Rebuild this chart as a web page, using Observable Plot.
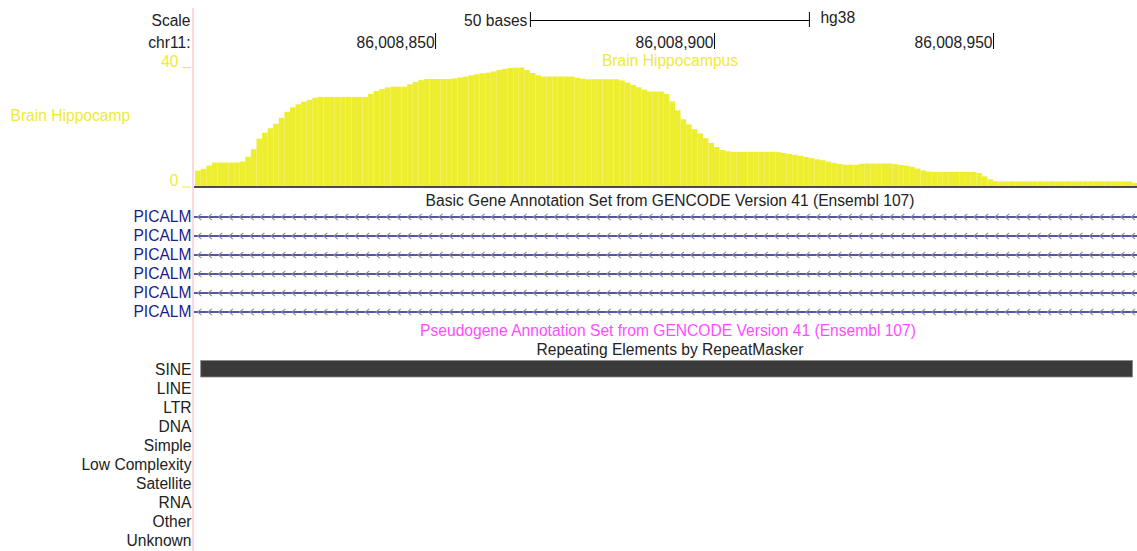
<!DOCTYPE html>
<html><head><meta charset="utf-8">
<script src="https://cdn.jsdelivr.net/npm/d3@7"></script>
<script src="https://cdn.jsdelivr.net/npm/@observablehq/plot@0.6"></script>
<style>
body{margin:0;background:#fff;}
#wrap{position:relative;width:1137px;height:551px;overflow:hidden;font-family:"Liberation Sans",Arial,sans-serif;}
#wrap > .layer{position:absolute;left:0;}
#gutter{position:absolute;left:192px;top:8px;width:2px;height:543px;background:#ffd9d9;}
</style></head><body>
<div id="wrap"><div id="gutter"></div></div>
<script>
// ---- data ----
const chromLabel = "chr11:";
const viewStart = 86008806.8, viewEnd = 86008975.8;
const coordTicks = [86008850, 86008900, 86008950];
const scaleBarStart = 86008867, scaleBarEnd = 86008917;
const scaleBarLabel = "50 bases", assembly = "hg38";

const coverageTrack = "Brain Hippocampus";
const coverageShortLabel = "Brain Hippocamp";
const coverageYTicks = [0, 40];
const coverageStart = 86008807;
const coverage = [
  5.3,5.9,7.0,8.0,8.0,8.0,8.0,8.0,8.4,10.0,
  12.5,16.0,18.0,19.5,21.0,23.0,25.0,26.5,27.5,28.4,
  29.0,29.7,30.0,30.0,30.0,30.0,30.0,30.0,30.0,30.0,
  30.0,31.0,32.0,32.6,33.2,33.4,33.4,33.4,34.2,35.0,
  35.6,36.0,36.0,36.0,36.0,36.0,36.2,36.5,36.8,37.2,
  37.6,37.9,38.1,38.5,39.0,39.4,39.7,39.8,39.8,39.0,
  38.0,37.2,36.8,36.8,36.8,36.8,36.8,36.8,36.4,36.1,
  35.9,35.9,35.9,35.9,35.9,35.9,35.5,34.8,34.0,33.2,
  32.4,31.8,31.8,31.8,31.0,28.5,25.5,22.5,20.8,19.2,
  17.8,16.2,14.6,13.2,12.2,11.8,11.6,11.6,11.6,11.6,
  11.6,11.6,11.6,11.6,11.5,11.2,10.9,10.6,10.3,9.9,
  9.5,9.1,8.8,8.3,7.9,7.5,7.3,7.3,7.3,7.6,
  7.7,7.7,7.7,7.7,7.7,7.5,7.2,7.0,6.6,6.0,
  5.4,5.0,4.9,4.9,4.9,4.9,4.9,4.9,4.9,4.9,
  4.5,3.4,2.4,1.8,1.7,1.7,1.7,1.7,1.7,1.7,
  1.7,1.7,1.7,1.7,1.7,1.7,1.7,1.7,1.7,1.7,
  1.7,1.7,1.7,1.7,1.7,1.7,1.7,1.7,1.2
];

const geneTrack = "Basic Gene Annotation Set from GENCODE Version 41 (Ensembl 107)";
const geneNames = ["PICALM","PICALM","PICALM","PICALM","PICALM","PICALM"];
const geneStarts = [85957175, 85957175, 85957175, 85957175, 85957175, 85957175];
const geneEnds = [86069882, 86069882, 86069882, 86069882, 86069882, 86069882];

const pseudoTrack = "Pseudogene Annotation Set from GENCODE Version 41 (Ensembl 107)";
const repeatTrack = "Repeating Elements by RepeatMasker";
const repeatClasses = ["SINE","LINE","LTR","DNA","Simple","Low Complexity","Satellite","RNA","Other","Unknown"];
const repeatClass = ["SINE"];
const repeatStarts = [86008808];
const repeatEnds = [86008975];

// ---- styles ----
const font = "'Liberation Sans', Arial, sans-serif";
const fs = "15.6px";
const textColor = "#222";
const yellowFill = "#eeee30";
const yellowText = "#eeea3a";
const navy = "#1c1c8a";
const magenta = "#ff4dff";
const W = 1137, ML = 194;

const wrap = document.getElementById("wrap");
function place(svg, top) {
  const d = document.createElement("div");
  d.className = "layer"; d.style.top = top + "px";
  d.appendChild(svg); wrap.appendChild(d);
}
const baseStyle = {fontFamily: font, fontSize: fs, color: textColor, background: "transparent", overflow: "visible"};
const xScale = {domain: [viewStart, viewEnd], axis: null};

// ---- header: scale bar + coordinates ----
place(Plot.plot({
  width: W, height: 53, marginLeft: ML, marginRight: 0, marginTop: 9, marginBottom: 0,
  style: baseStyle,
  x: xScale,
  y: {type: "band", domain: ["Scale", chromLabel], padding: 0, axis: null},
  marks: [
    Plot.axisY({tickSize: 0, tickPadding: 4, fill: textColor, label: null}),
    Plot.ruleY(["Scale"], {y: d => d, x1: scaleBarStart, x2: scaleBarEnd, stroke: "#000", strokeWidth: 1}),
    Plot.tickX([scaleBarStart, scaleBarEnd], {x: d => d, y: () => "Scale", stroke: "#000", insetTop: 3, insetBottom: 4}),
    Plot.text([scaleBarLabel], {x: scaleBarStart, y: () => "Scale", text: d => d, textAnchor: "end", dx: -3, fill: textColor}),
    Plot.text([assembly], {x: scaleBarEnd, y: () => "Scale", text: d => d, textAnchor: "start", dx: 11, dy: -3, fill: textColor}),
    Plot.tickX(coordTicks, {x: d => d, y: () => chromLabel, stroke: "#000", insetTop: 2, insetBottom: 4}),
    Plot.text(coordTicks, {x: d => d, y: () => chromLabel, text: d => d3.format(",")(d), textAnchor: "end", dx: -1, fill: textColor})
  ]
}), 0);

// ---- coverage track ----
const covData = coverage.map((v, i) => ({start: coverageStart + i, end: coverageStart + i + 1, value: v}));
place(Plot.plot({
  width: W, height: 133, marginLeft: ML, marginRight: 0, marginTop: 12, marginBottom: 1.5,
  style: baseStyle,
  x: xScale,
  y: {domain: [0, 40], axis: null},
  marks: [
    Plot.rectY(covData, {x1: "start", x2: "end", y: "value", fill: yellowFill, clip: true}),
    Plot.ruleY([0], {stroke: "#111", strokeWidth: 1.5}),
    Plot.axisY({ticks: coverageYTicks, tickSize: 9, dx: -3, tickFormat: () => "", stroke: yellowText, label: null}),
    Plot.axisY({ticks: coverageYTicks, tickSize: 0, tickPadding: 16, dy: -6, fill: yellowText, label: null}),
    Plot.text([coverageShortLabel], {frameAnchor: "left", text: d => d, textAnchor: "start", lineAnchor: "middle", dx: -184, dy: -11, fill: yellowText}),
    Plot.text([coverageTrack], {frameAnchor: "top", text: d => d, lineAnchor: "middle", dx: 4, dy: -7, fill: yellowText})
  ]
}), 55);

// ---- gene track ----
const genes = geneNames.map((g, i) => ({row: i, name: g, start: geneStarts[i], end: geneEnds[i]}));
const chevronSymbol = {draw(ctx, size) { const r = Math.sqrt(size / Math.PI); ctx.moveTo(r * 0.6, -r); ctx.lineTo(-r * 0.6, 0); ctx.lineTo(r * 0.6, r); }};
const chevrons = genes.flatMap(g => d3.range(viewStart + 0.9, viewEnd, 1.88).map(x => ({row: g.row, x})));
place(Plot.plot({
  width: W, height: 133, marginLeft: ML, marginRight: 0, marginTop: 19, marginBottom: 0,
  style: baseStyle,
  x: xScale,
  y: {type: "band", domain: d3.range(geneNames.length), padding: 0, axis: null},
  marks: [
    Plot.text([geneTrack], {frameAnchor: "top", text: d => d, lineAnchor: "middle", dx: 4, dy: -7, fill: textColor}),
    Plot.ruleY(genes, {y: "row", x1: "start", x2: "end", stroke: navy, strokeWidth: 1.3, clip: true}),
    Plot.dot(chevrons, {x: "x", y: "row", symbol: chevronSymbol, r: 3.2, stroke: "#8c8c8c", fill: "none", strokeWidth: 1.1, clip: true}),
    Plot.axisY({tickSize: 0, tickPadding: 3, tickFormat: i => geneNames[i], fill: navy, label: null})
  ]
}), 188);

// ---- repeat track ----
const repeats = repeatClass.map((c, i) => ({cls: c, start: repeatStarts[i], end: repeatEnds[i]}));
place(Plot.plot({
  width: W, height: 231, marginLeft: ML, marginRight: 0, marginTop: 38, marginBottom: 0,
  style: baseStyle,
  x: xScale,
  y: {type: "band", domain: repeatClasses, padding: 0, axis: null},
  marks: [
    Plot.text([pseudoTrack], {frameAnchor: "top", text: d => d, lineAnchor: "middle", dx: 2, dy: -28, fill: magenta}),
    Plot.text([repeatTrack], {frameAnchor: "top", text: d => d, lineAnchor: "middle", dx: 4, dy: -9, fill: textColor}),
    Plot.barX(repeats, {y: "cls", x1: "start", x2: "end", fill: "#3a3a3a", stroke: "#8a8a8a", strokeWidth: 0.8, insetTop: 0.5, insetBottom: 2}),
    Plot.axisY({tickSize: 0, tickPadding: 3, fill: textColor, label: null})
  ]
}), 320);
</script>
</body></html>
